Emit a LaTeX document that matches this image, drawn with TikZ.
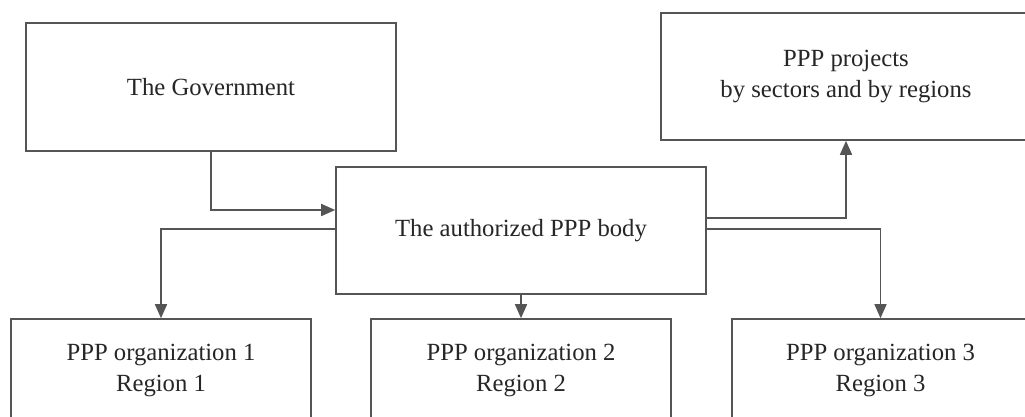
\documentclass[tikz,border=0pt]{standalone}
\usepackage{fontspec}
\setmainfont{Liberation Serif}
\usetikzlibrary{arrows.meta}
\definecolor{linecol}{HTML}{555555}
\definecolor{textcol}{HTML}{262626}
\begin{document}
\begin{tikzpicture}[x=1pt,y=-1pt,
  box/.style={draw=linecol,line width=1.6pt,fill=white,text=textcol,align=center,
    inner sep=0pt,font=\fontsize{24.7}{31}\selectfont},
  arr/.style={draw=linecol,line width=1.6pt,-{Triangle[length=14pt,width=12pt]}}]
\useasboundingbox (0,0) rectangle (1025,417);
\clip (0,0) rectangle (1025,417);
\fill[white] (0,0) rectangle (1025,417);
\node[box,minimum width=370pt,minimum height=128pt] (gov) at (211,87) {The Government};
\node[box,minimum width=370pt,minimum height=127pt] (proj) at (846,76.5) {PPP projects\\by sectors and by regions};
\node[box,minimum width=370pt,minimum height=127pt] (auth) at (521,230.5) {The authorized PPP body};
\node[box,minimum width=300pt,minimum height=103pt] (org1) at (161,370.5) {PPP organization 1\\Region 1};
\node[box,minimum width=300pt,minimum height=103pt] (org2) at (521,370.5) {PPP organization 2\\Region 2};
\node[box,minimum width=297pt,minimum height=103pt] (org3) at (880.5,370.5) {PPP organization 3\\Region 3};
\draw[arr] (gov.south) |- (auth.west |- 0,210);
\draw[arr] (auth.west |- 0,229) -| (org1.north);
\draw[arr] (auth.south) -- (org2.north);
\draw[arr] (auth.east |- 0,229) -| (org3.north);
\draw[arr] (auth.east |- 0,218) -| (proj.south);
\end{tikzpicture}
\end{document}
